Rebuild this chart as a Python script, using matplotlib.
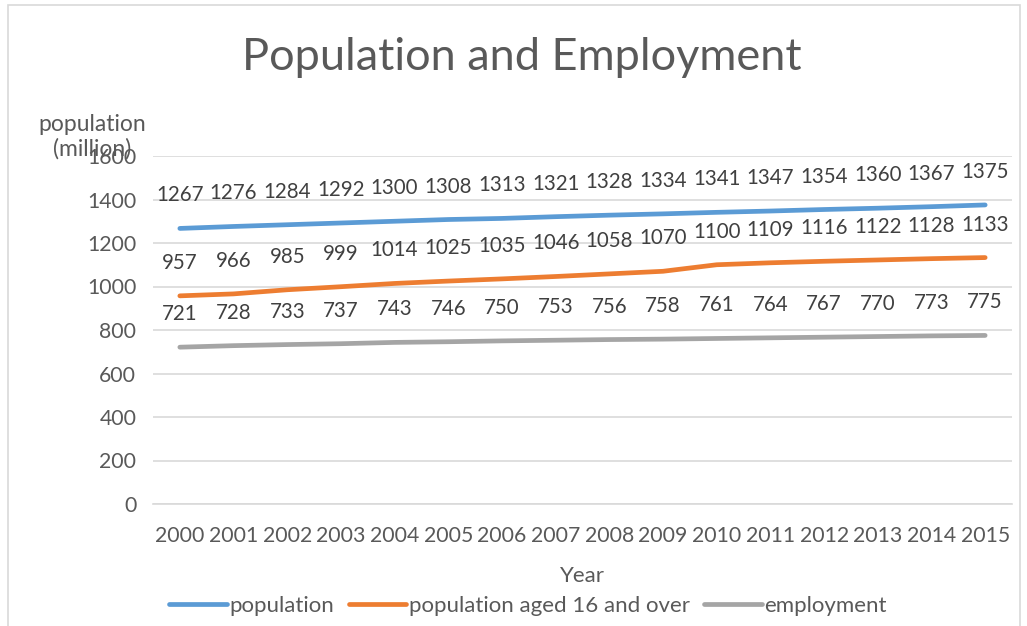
import matplotlib.pyplot as plt
from matplotlib.patches import Rectangle

years = [str(y) for y in range(2000, 2016)]
population = [1267, 1276, 1284, 1292, 1300, 1308, 1313, 1321, 1328, 1334,
              1341, 1347, 1354, 1360, 1367, 1375]
aged_16_over = [957, 966, 985, 999, 1014, 1025, 1035, 1046, 1058, 1070,
                1100, 1109, 1116, 1122, 1128, 1133]
employment = [721, 728, 733, 737, 743, 746, 750, 753, 756, 758,
              761, 764, 767, 770, 773, 775]

series = [
    ("population", population, "#5B9BD5"),
    ("population aged 16 and over", aged_16_over, "#ED7D31"),
    ("employment", employment, "#A5A5A5"),
]

text_color = "#595959"
plt.rcParams['font.family'] = ['Lato', 'DejaVu Sans']

fig = plt.figure(figsize=(10.27, 6.26), dpi=100)
ax = fig.add_axes([153 / 1027, 1 - 504 / 626, (1012 - 153) / 1027, (504 - 156) / 626])

# outer chart frame
fig.patches.append(Rectangle((8 / 1027, -0.05), (1020 - 8) / 1027, 1 - 5 / 626 + 0.05,
                             transform=fig.transFigure, fill=False,
                             edgecolor="#D9D9D9", linewidth=1.2))

x = list(range(len(years)))
for name, vals, color in series:
    ax.plot(x, vals, color=color, linewidth=3.4, solid_capstyle='round', label=name)
    for xi, v in zip(x, vals):
        ax.annotate(str(v), (xi, v), xytext=(0, 33), textcoords='offset pixels',
                    ha='center', va='center', fontsize=14.8, color="#404040")

ax.set_xlim(-0.5, len(years) - 0.5)
ax.set_ylim(0, 1600)
ax.set_yticks(range(0, 1601, 200))
ax.set_xticks(x, years)
ax.grid(axis='y', color="#D9D9D9", linewidth=1.2)
ax.set_axisbelow(True)
for s in ['top', 'right', 'left']:
    ax.spines[s].set_visible(False)
ax.spines['bottom'].set_color("#D9D9D9")
ax.spines['bottom'].set_linewidth(1.2)
ax.tick_params(length=0, labelsize=15.3, labelcolor=text_color, pad=12)
ax.tick_params(axis='x', pad=16)

ax.set_xlabel("Year", fontsize=16, color=text_color, labelpad=14)
fig.text(92 / 1027, 1 - 137 / 626, "population\n(million)", ha='center', va='center',
         fontsize=16.5, color=text_color, linespacing=1.2)

fig.text(522 / 1027, 1 - 57 / 626, "Population and Employment", ha='center', va='center',
         fontsize=32.5, color=text_color)

fig.legend(loc='center', bbox_to_anchor=(528 / 1027, 1 - 606 / 626), ncol=3, frameon=False,
           fontsize=16, labelcolor=text_color, handlelength=2.6, handletextpad=0.1,
           columnspacing=0.65)

fig.savefig("out.png", dpi=100)
